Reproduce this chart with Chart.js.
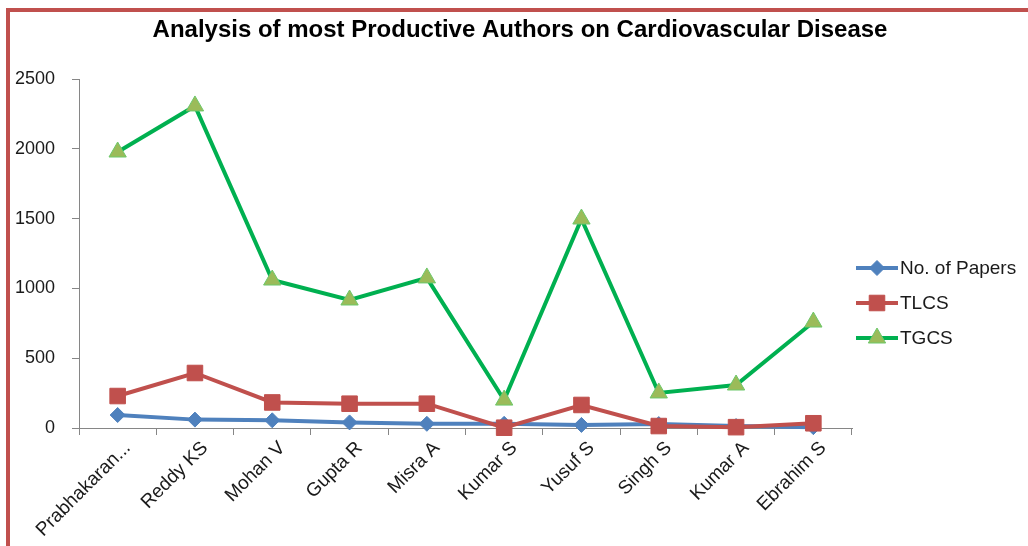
<!DOCTYPE html>
<html>
<head>
<meta charset="utf-8">
<script src="https://cdn.jsdelivr.net/npm/chart.js@4.4.1/dist/chart.umd.min.js"></script>
<style>
  html, body { margin: 0; padding: 0; background: #ffffff; overflow: hidden; }
  #wrap { position: relative; width: 1028px; height: 546px; }
  #frame { position: absolute; left: 6px; top: 8px; width: 1100px; height: 600px;
           border-left: 4px solid #C0504D; border-top: 4px solid #C0504D; pointer-events: none; }
</style>
</head>
<body>
<div id="wrap">
  <canvas id="c" width="1028" height="546"></canvas>
  <div id="frame"></div>
</div>
<script>
const titleText = "Analysis of most Productive Authors on Cardiovascular Disease";
const categories = ["Prabhakaran...", "Reddy KS", "Mohan V", "Gupta R", "Misra A", "Kumar S", "Yusuf S", "Singh S", "Kumar A", "Ebrahim S"];
const papers = [93, 60, 55, 40, 30, 30, 22, 28, 14, 6];
const tlcs = [229, 394, 183, 174, 174, 2, 165, 14, 6, 34];
const tgcs = [1977, 2307, 1060, 917, 1075, 200, 1497, 251, 308, 759];
const seriesNames = ["No. of Papers", "TLCS", "TGCS"];
const yTicks = [0, 500, 1000, 1500, 2000, 2500];

const FONT = "'Liberation Sans', Arial, sans-serif";

const titlePlugin = {
  id: 'pageTitle',
  afterDraw(chart) {
    const ctx = chart.ctx;
    ctx.save();
    ctx.fillStyle = '#000000';
    ctx.font = "bold 24px " + FONT;
    ctx.textAlign = 'center';
    ctx.textBaseline = 'middle';
    ctx.fillText(titleText, 520, 30);
    ctx.restore();
  }
};

const legendPlugin = {
  id: 'sideLegend',
  afterDraw(chart) {
    const ctx = chart.ctx;
    const rows = [268, 303, 338];
    chart.data.datasets.forEach((ds, i) => {
      const y = rows[i];
      ctx.save();
      ctx.strokeStyle = ds.borderColor;
      ctx.lineWidth = ds.borderWidth;
      ctx.beginPath();
      ctx.moveTo(856, y);
      ctx.lineTo(898, y);
      ctx.stroke();
      ctx.fillStyle = ds.pointBackgroundColor;
      ctx.strokeStyle = ds.pointBorderColor;
      ctx.lineWidth = ds.pointBorderWidth;
      Chart.helpers.drawPoint(ctx, {
        pointStyle: ds.pointStyle,
        radius: ds.pointRadius,
        rotation: 0,
        borderWidth: ds.pointBorderWidth
      }, 877, y);
      ctx.fillStyle = '#1a1a1a';
      ctx.font = "19px " + FONT;
      ctx.textBaseline = 'middle';
      ctx.textAlign = 'left';
      ctx.fillText(ds.label, 900, y + 1);
      ctx.restore();
    });
  }
};

new Chart(document.getElementById('c'), {
  type: 'line',
  data: {
    labels: categories,
    datasets: [
      {
        label: seriesNames[0], data: papers, order: 3,
        borderColor: '#4F81BD', borderWidth: 4,
        pointStyle: 'rectRot', pointRadius: 7.5, pointHoverRadius: 7.5,
        pointBackgroundColor: '#4F81BD', pointBorderColor: '#4F81BD', pointBorderWidth: 1,
        clip: false, tension: 0
      },
      {
        label: seriesNames[1], data: tlcs, order: 2,
        borderColor: '#C0504D', borderWidth: 4,
        pointStyle: 'rect', pointRadius: 11, pointHoverRadius: 11,
        pointBackgroundColor: '#C0504D', pointBorderColor: '#C0504D', pointBorderWidth: 1,
        clip: false, tension: 0
      },
      {
        label: seriesNames[2], data: tgcs, order: 1,
        borderColor: '#00B050', borderWidth: 4,
        pointStyle: 'triangle', pointRadius: 10, pointHoverRadius: 10,
        pointBackgroundColor: '#9BBB59', pointBorderColor: '#6CC86A', pointBorderWidth: 1,
        clip: false, tension: 0
      }
    ]
  },
  options: {
    responsive: false,
    animation: false,
    events: [],
    layout: { padding: { left: 0, right: 176, top: 79, bottom: 0 } },
    plugins: {
      legend: { display: false },
      tooltip: { enabled: false },
      title: { display: false }
    },
    scales: {
      x: {
        type: 'category', offset: true,
        afterFit(scale) { scale.height = 118; },
        grid: { display: true, offset: true, drawOnChartArea: false, drawTicks: true,
                tickLength: 7, color: '#868686', lineWidth: 1 },
        border: { display: true, color: '#868686', width: 1 },
        ticks: { autoSkip: false, minRotation: 45, maxRotation: 45, color: '#1a1a1a',
                 padding: 2, labelOffset: 10, font: { family: FONT, size: 19 } }
      },
      y: {
        min: 0, max: 2500,
        afterFit(scale) { scale.width = 79; },
        afterBuildTicks(scale) { scale.ticks = yTicks.map(v => ({ value: v })); },
        grid: { display: true, drawOnChartArea: false, drawTicks: true,
                tickLength: 7, color: '#868686', lineWidth: 1 },
        border: { display: true, color: '#868686', width: 1 },
        ticks: { color: '#1a1a1a', padding: 17, font: { family: FONT, size: 18 },
                 callback: (v) => String(v) }
      }
    }
  },
  plugins: [titlePlugin, legendPlugin]
});
</script>
</body>
</html>
